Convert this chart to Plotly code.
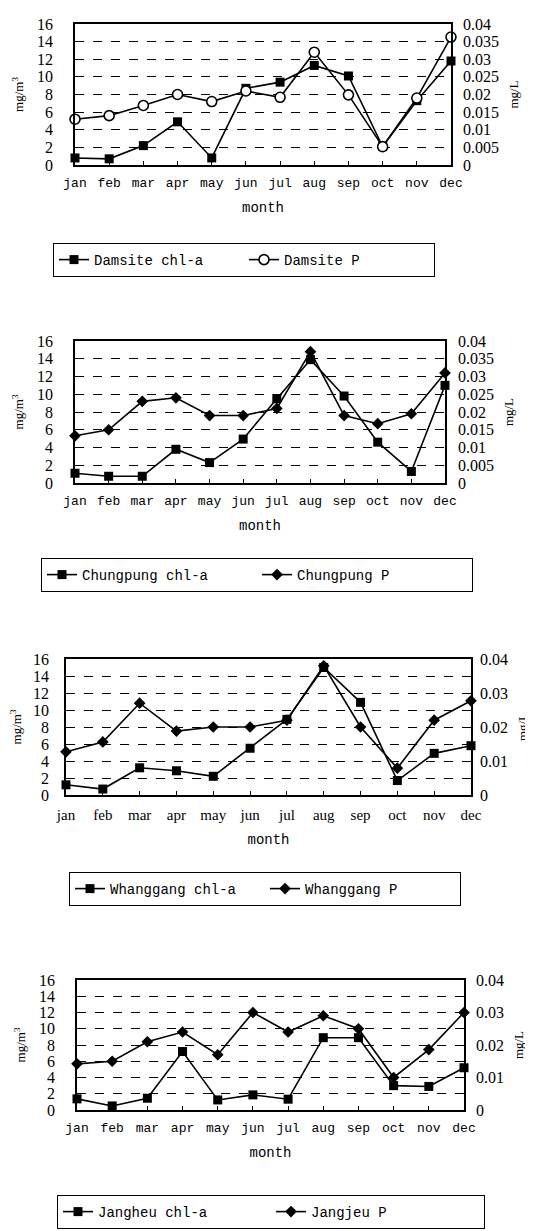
import plotly.graph_objects as go

months = ["jan", "feb", "mar", "apr", "may", "jun", "jul", "aug", "sep", "oct", "nov", "dec"]

damsite_chla = [0.8, 0.7, 2.2, 4.9, 0.8, 8.7, 9.4, 11.3, 10.1, 2.1, 7.3, 11.8]
damsite_p = [0.013, 0.014, 0.0169, 0.020, 0.018, 0.021, 0.0192, 0.032, 0.0199, 0.0052, 0.019, 0.0363]

chungpung_chla = [1.1, 0.76, 0.76, 3.8, 2.3, 4.95, 9.5, 13.9, 9.8, 4.6, 1.3, 11.0]
chungpung_p = [0.0133, 0.015, 0.023, 0.024, 0.019, 0.019, 0.021, 0.037, 0.019, 0.0167, 0.0195, 0.031]

whanggang_chla = [1.2, 0.7, 3.2, 2.85, 2.2, 5.5, 8.9, 15.0, 10.9, 1.7, 4.9, 5.8]
whanggang_p = [0.0127, 0.0156, 0.027, 0.0188, 0.020, 0.020, 0.022, 0.038, 0.020, 0.0079, 0.022, 0.0277]

jangheu_chla = [1.37, 0.5, 1.45, 7.2, 1.24, 1.86, 1.33, 8.9, 8.9, 3.0, 2.9, 5.2]
jangjeu_p = [0.0142, 0.015, 0.021, 0.024, 0.017, 0.030, 0.024, 0.029, 0.025, 0.010, 0.0186, 0.030]

left_ticks = [0, 2, 4, 6, 8, 10, 12, 14, 16]
right_ticks_fine = [0, 0.005, 0.01, 0.015, 0.02, 0.025, 0.03, 0.035, 0.04]
right_text_fine = ["0", "0.005", "0.01", "0.015", "0.02", "0.025", "0.03", "0.035", "0.04"]
right_ticks_coarse = [0, 0.01, 0.02, 0.03, 0.04]
right_text_coarse = ["0", "0.01", "0.02", "0.03", "0.04"]

names = [
    ("Damsite chl-a", "Damsite P"),
    ("Chungpung chl-a", "Chungpung P"),
    ("Whanggang chl-a", "Whanggang P"),
    ("Jangheu chl-a", "Jangjeu P"),
]
chla_series = [damsite_chla, chungpung_chla, whanggang_chla, jangheu_chla]
p_series = [damsite_p, chungpung_p, whanggang_p, jangjeu_p]

W, H = 533, 1231

serif = "Liberation Serif"
mono = "Liberation Mono"

# pixel layout for each panel
panels = [
    dict(l=67, r=443, t=16, b=157, leg_x=236, leg_y=235, ew=145, fine=True, p_sym="circle-open",
         xfont=mono, xsize=13, lstand=17, rstand=11),
    dict(l=67, r=437, t=333, b=475, leg_x=249, leg_y=550, ew=170, fine=True, p_sym="diamond",
         xfont=mono, xsize=13, lstand=17, rstand=12),
    dict(l=58, r=463, t=651, b=787, leg_x=257, leg_y=864, ew=150, fine=False, p_sym="diamond",
         xfont=serif, xsize=15, lstand=12, rstand=8),
    dict(l=69, r=456, t=972, b=1102, leg_x=263, leg_y=1187, ew=168, fine=False, p_sym="diamond",
         xfont=mono, xsize=13, lstand=17, rstand=11),
]

fig = go.Figure()
layout = dict(
    width=W, height=H,
    margin=dict(l=0, r=0, t=0, b=0, autoexpand=False),
    paper_bgcolor="white", plot_bgcolor="white",
    showlegend=True,
)

for i, pn in enumerate(panels):
    k = i + 1
    xa = "x" if k == 1 else f"x{k}"
    ya_l = "y" if k == 1 else f"y{2*k-1}"
    ya_r = f"y{2*k}"
    leg = "legend" if k == 1 else f"legend{k}"

    fig.add_trace(go.Scatter(
        x=months, y=chla_series[i], name=names[i][0], mode="lines+markers",
        line=dict(color="black", width=1.6),
        marker=dict(symbol="square", size=9, color="black"),
        xaxis=xa, yaxis=ya_l, legend=leg, cliponaxis=False,
    ))
    if pn["p_sym"] == "circle-open":
        pmarker = dict(symbol="circle", size=10, color="white", line=dict(color="black", width=1.6))
    else:
        pmarker = dict(symbol="diamond", size=9, color="black")
    fig.add_trace(go.Scatter(
        x=months, y=p_series[i], name=names[i][1], mode="lines+markers",
        line=dict(color="black", width=1.6),
        marker=pmarker,
        xaxis=xa, yaxis=ya_r, legend=leg, cliponaxis=False,
    ))

    xkey = "xaxis" if k == 1 else f"xaxis{k}"
    ylkey = "yaxis" if k == 1 else f"yaxis{2*k-1}"
    yrkey = f"yaxis{2*k}"

    layout[xkey] = dict(
        domain=[pn["l"] / W, pn["r"] / W],
        anchor=ya_l, automargin=False,
        type="category", categoryorder="array", categoryarray=months,
        range=[0, 11],
        showline=True, mirror=True, linecolor="black", linewidth=1.5,
        ticks="inside", ticklen=4, tickcolor="black",
        showgrid=False, zeroline=False,
        tickfont=dict(family=pn["xfont"], size=pn["xsize"], color="black"),
        ticklabelstandoff=5,
        title=dict(text="month", font=dict(family=mono, size=14, color="black"), standoff=12),
        fixedrange=True,
    )
    layout[ylkey] = dict(
        domain=[1 - pn["b"] / H, 1 - pn["t"] / H],
        anchor=xa, automargin=False,
        range=[0, 16],
        tickvals=left_ticks,
        showline=True, mirror=True, linecolor="black", linewidth=1.5,
        showgrid=True, gridcolor="black", gridwidth=1, griddash="dash",
        zeroline=False, ticks="",
        tickfont=dict(family=serif, size=16, color="black"),
        ticklabelstandoff=pn["lstand"],
        title=dict(text="mg/m<sup>3</sup>", font=dict(family=serif, size=13, color="black"), standoff=10),
        fixedrange=True,
    )
    if pn["fine"]:
        tv, tt = right_ticks_fine, right_text_fine
    else:
        tv, tt = right_ticks_coarse, right_text_coarse
    layout[yrkey] = dict(
        overlaying=ya_l, side="right", anchor=xa, automargin=False,
        range=[0, 0.04],
        tickvals=tv, ticktext=tt,
        showgrid=False, zeroline=False, showline=False, ticks="",
        tickfont=dict(family=serif, size=16, color="black"),
        ticklabelstandoff=pn["rstand"],
        title=dict(text="mg/L", font=dict(family=serif, size=13, color="black"), standoff=10),
        fixedrange=True,
    )
    layout[leg] = dict(
        x=pn["leg_x"] / W, xanchor="center",
        y=1 - pn["leg_y"] / H, yanchor="top",
        orientation="h",
        bordercolor="black", borderwidth=1,
        bgcolor="white",
        font=dict(family=mono, size=14, color="black"),
        entrywidth=pn["ew"], entrywidthmode="pixels",
        itemclick=False, itemdoubleclick=False,
    )

fig.update_layout(**layout)
fig.write_html("out.html")
